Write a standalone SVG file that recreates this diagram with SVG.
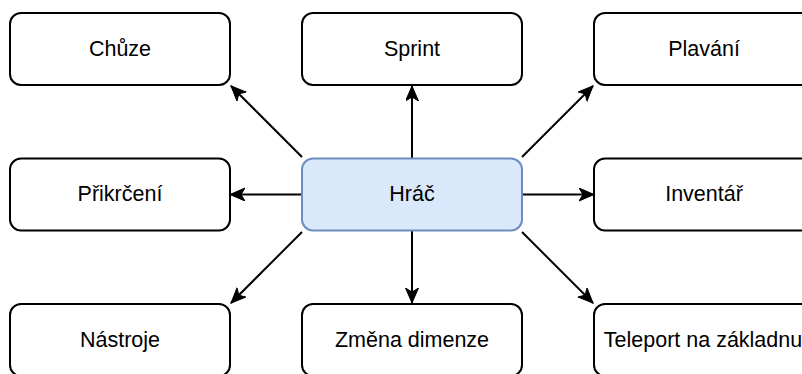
<svg xmlns="http://www.w3.org/2000/svg" width="802" height="374" viewBox="0 0 802 374">
<defs>
<style>
.box{fill:#ffffff;stroke:#000000;stroke-width:2}
.main{fill:#dae8fc;stroke:#6c8ebf;stroke-width:2}
.lbl{font-family:"Liberation Sans",Arial,sans-serif;font-size:21.5px;fill:#000000;text-anchor:middle}
.edge{stroke:#000000;stroke-width:2;fill:none;marker-end:url(#arr)}
</style>
<marker id="arr" markerUnits="userSpaceOnUse" markerWidth="17" markerHeight="15" refX="15" refY="6.5" orient="auto" viewBox="0 0 17 15">
<path d="M0,0 L15,6.5 L0,13 L4,6.5 Z" fill="#000000" stroke="#000000" stroke-width="1"/>
</marker>
</defs>
<rect width="802" height="374" fill="#ffffff"/>
<g id="connectors">
<line class="edge" x1="412" y1="158" x2="412" y2="86"/>
<line class="edge" x1="302" y1="157" x2="231" y2="86"/>
<line class="edge" x1="522" y1="157" x2="593" y2="86"/>
<line class="edge" x1="302" y1="194.5" x2="230" y2="194.5"/>
<line class="edge" x1="522" y1="194.5" x2="594" y2="194.5"/>
<line class="edge" x1="302" y1="232" x2="231" y2="303"/>
<line class="edge" x1="522" y1="232" x2="593" y2="303"/>
<line class="edge" x1="412" y1="231" x2="412" y2="303"/>
</g>
<g id="chuze"><rect class="box" x="10" y="13" width="220" height="72" rx="11"/><text class="lbl" x="120" y="55.5">Chůze</text></g>
<g id="sprint"><rect class="box" x="302" y="13" width="220" height="72" rx="11"/><text class="lbl" x="412" y="55.5">Sprint</text></g>
<g id="plavani"><rect class="box" x="594" y="13" width="220" height="72" rx="11"/><text class="lbl" x="704" y="55.5">Plavání</text></g>
<g id="prikrceni"><rect class="box" x="10" y="158.5" width="220" height="72" rx="11"/><text class="lbl" x="120" y="201">Přikrčení</text></g>
<g id="hrac"><rect class="main" x="302" y="158.5" width="220" height="72" rx="11"/><text class="lbl" x="412" y="201">Hráč</text></g>
<g id="inventar"><rect class="box" x="594" y="158.5" width="220" height="72" rx="11"/><text class="lbl" x="704" y="201">Inventář</text></g>
<g id="nastroje"><rect class="box" x="10" y="304" width="220" height="72" rx="11"/><text class="lbl" x="120" y="346.5">Nástroje</text></g>
<g id="zmena"><rect class="box" x="302" y="304" width="220" height="72" rx="11"/><text class="lbl" x="412" y="346.5">Změna dimenze</text></g>
<g id="teleport"><rect class="box" x="594" y="304" width="220" height="72" rx="11"/><text class="lbl" x="703" y="346.5">Teleport na základnu</text></g>
</svg>
